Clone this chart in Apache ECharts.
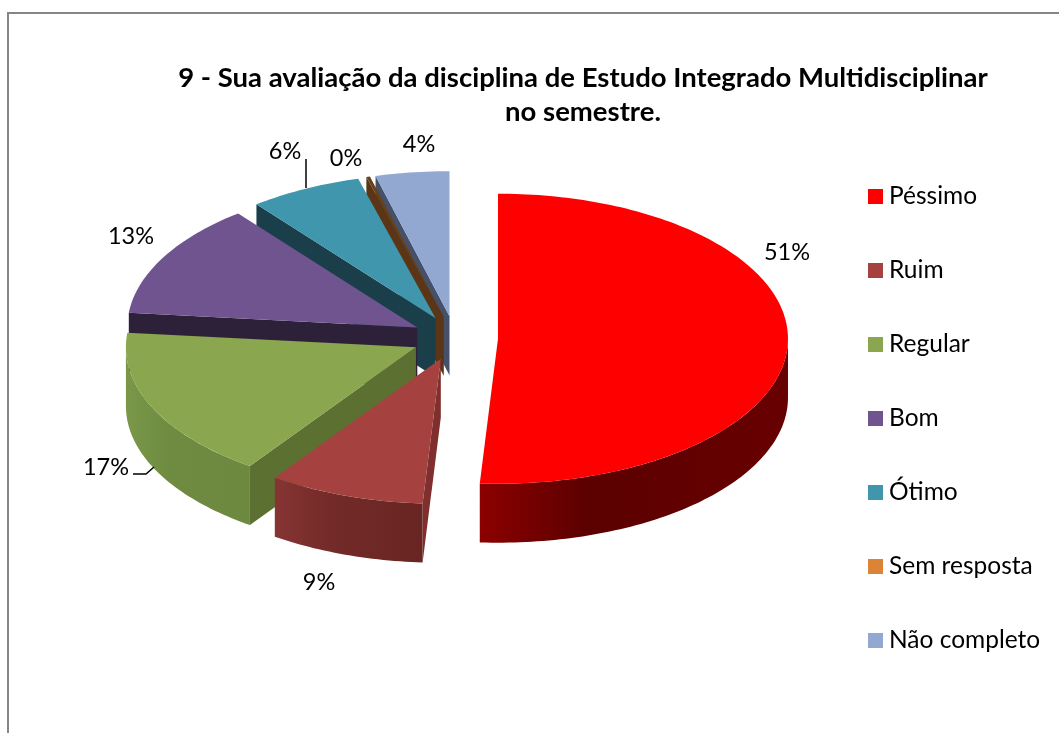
<!DOCTYPE html>
<html><head><meta charset="utf-8">
<style>html,body{margin:0;padding:0;background:#fff}#c{width:1059px;height:733px}</style>
<script src="https://cdn.jsdelivr.net/npm/echarts@6/dist/echarts.min.js"></script>
</head><body><div id="c"></div>
<script>
const categories = ['Péssimo','Ruim','Regular','Bom','Ótimo','Sem resposta','Não completo'];
const values = [51, 8.7, 16.9, 12.8, 6.3, 0.2, 4.1];
const colors = ['#ff0000','#a5423f','#8aa64e','#70548f','#3f96ad','#db8438','#93a8d0'];
const topColors = ['#ff0000','#a5423f','#8aa64e','#70548f','#3f96ad','#6a4018','#93a8d0'];
const wallLeft = ['#8c0000','#863533','#7a9848','#4c3a62','#2a6272','#8a5424','#5a6a88'];
const wallMid = ['#5c0000','#742b29','#6e8b41','#443258','#245864','#7a4a1e','#52607c'];
const wallRight = ['#680000','#682522','#6c893f','#3c2c50','#20505e','#6a4018','#4a5670'];
const sideFace = ['#6e0000','#7f2f2d','#5c7032','#2d2139','#1a3f4b','#5a3617','#45506a'];
// hand-moved label placement, one per category, and leader lines
const labelSpots = [[787,252],[319,582],[106,467],[131,236],[285,151],[346,158],[419,144]];
const leaders = [null,null,[[133,474],[146,474],[154,467]],null,[[306,159],[306,188]],null,null];

const PIE = {cx:455, cy:338, rx:290, ry:145, ex:43, ey:22, h:59};
const total = values.reduce((a,b)=>a+b,0);
const FONT = 'Lato, "Open Sans", sans-serif';

let acc = 0;
const spans = values.map(v=>{const s=acc/total*Math.PI*2; acc+=v; return [s,acc/total*Math.PI*2];});

function rim(ox,oy,t,dy){return [ox+PIE.rx*Math.sin(t), oy-PIE.ry*Math.cos(t)+(dy||0)];}
function arc(ox,oy,a,b,dy){
  const n=Math.max(2,Math.ceil((b-a)/0.02)), pts=[];
  for(let i=0;i<=n;i++) pts.push(rim(ox,oy,a+(b-a)*i/n,dy));
  return pts;
}
function renderSlice(i){
  return function(){
    const [a,b]=spans[i], mid=(a+b)/2;
    const ox=PIE.cx+PIE.ex*Math.sin(mid), oy=PIE.cy-PIE.ey*Math.cos(mid);
    const kids=[];
    // visible cut face (the clockwise-start edge faces the viewer on the left half)
    if(Math.sin(a)<-1e-6){
      const e=rim(ox,oy,a);
      kids.push({type:'polygon',shape:{points:[[ox,oy],e,[e[0],e[1]+PIE.h],[ox,oy+PIE.h]]},style:{fill:sideFace[i]}});
    }
    // outer wall for the near half of the rim
    const wa=Math.max(a,Math.PI/2), wb=Math.min(b,Math.PI*1.5);
    if(wb>wa){
      const top=arc(ox,oy,wa,wb,0), bot=arc(ox,oy,wa,wb,PIE.h).reverse();
      kids.push({type:'polygon',shape:{points:top.concat(bot)},style:{
        fill:new echarts.graphic.LinearGradient(0,0,1,0,[{offset:0,color:wallLeft[i]},{offset:0.35,color:wallMid[i]},{offset:1,color:wallRight[i]}])}});
    }
    kids.push({type:'polygon',shape:{points:[[ox,oy]].concat(arc(ox,oy,a,b,0))},style:{fill:topColors[i]}});
    if(leaders[i]) kids.push({type:'polyline',shape:{points:leaders[i]},style:{fill:null,stroke:'#000',lineWidth:1.5}});
    kids.push({type:'text',style:{text:Math.round(values[i])+'%',x:labelSpots[i][0],y:labelSpots[i][1],align:'center',verticalAlign:'middle',font:'23.5px '+FONT,fill:'#000'}});
    return {type:'group',children:kids};
  };
}

const series = categories.map((name,i)=>{
  const mid=(spans[i][0]+spans[i][1])/2;
  return {type:'custom',name,coordinateSystem:'none',data:[values[i]],renderItem:renderSlice(i),
    itemStyle:{color:colors[i]},z:Math.round(100-50*Math.cos(mid))+(i===0?60:0),silent:true,clip:false};
});

const chart = echarts.init(document.getElementById('c'),null,{renderer:'canvas'});
chart.setOption({
  animation:false,
  backgroundColor:'#fff',
  title:{text:'9 - Sua avaliação da disciplina de Estudo Integrado Multidisciplinar\nno semestre.',
    left:578,top:56,textAlign:'center',
    textStyle:{fontFamily:FONT,fontWeight:'bold',fontSize:27.5,lineHeight:34,color:'#000'}},
  legend:{data:categories,orient:'vertical',left:863,top:179,icon:'rect',itemWidth:15,itemHeight:15,itemGap:49,selectedMode:false,
    textStyle:{fontFamily:FONT,fontSize:24.5,color:'#000',padding:[0,0,0,1]}},
  graphic:[{type:'polyline',shape:{points:[[8,733],[8,13],[1059,13]]},style:{fill:null,stroke:'#868686',lineWidth:2},silent:true}],
  series
});
</script></body></html>
